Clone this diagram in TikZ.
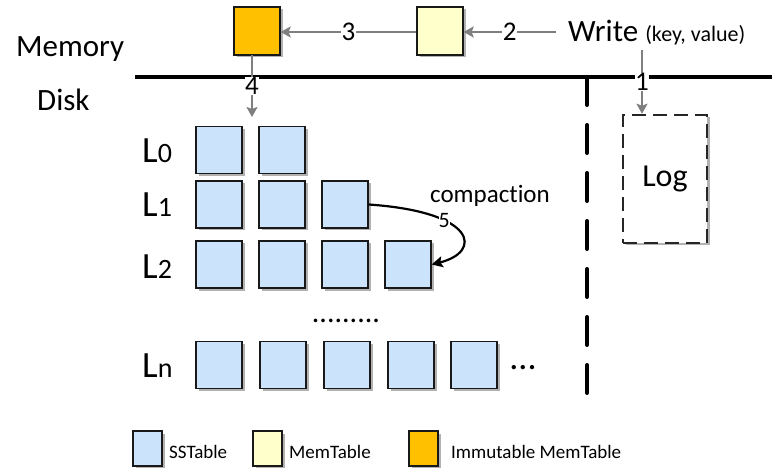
\documentclass[tikz,border=0pt]{standalone}
\usepackage{fontspec}
\setmainfont{Carlito}[Ligatures={NoCommon}]
\usetikzlibrary{arrows.meta,shadows}
\definecolor{sstblue}{HTML}{CCE4FB}
\definecolor{memyel}{HTML}{FFFFCC}
\definecolor{immorg}{HTML}{FFC000}
\definecolor{arrgray}{HTML}{7F7F7F}
\newcommand{\fs}[1]{\fontsize{#1}{#1}\selectfont}
\tikzset{
  shad/.style={drop shadow={shadow xshift=2.5pt,shadow yshift=-2.5pt,opacity=0.3,fill=black}},
  box/.style={draw=black!90,line width=1.3pt,minimum width=46pt,minimum height=47pt,inner sep=0pt,shad},
  sst/.style={box,fill=sstblue},
  mem/.style={box,fill=memyel,minimum height=48pt},
  imm/.style={box,fill=immorg,minimum height=48pt},
  leg/.style={draw=black!90,line width=1.3pt,minimum width=29pt,minimum height=35pt,inner sep=0pt,shad},
  gray arrow/.style={draw=arrgray,line width=2.2pt,-{Stealth[length=10pt,width=11pt,inset=2pt]}},
  num/.style={fill=white,inner sep=0.5pt,font=\fs{27}},
  lvl/.style={anchor=base west,inner sep=0pt},
  legtxt/.style={anchor=base west,inner sep=0pt,font=\fs{19}},
}
\begin{document}
\begin{tikzpicture}[x=1pt,y=-1pt]
\useasboundingbox (0,0) rectangle (772,468);
% labels memory / disk
\node[anchor=base west,inner sep=0pt,font=\fs{31}] (memlbl) at (16,57) {Memory};
\node[anchor=base west,inner sep=0pt,font=\fs{31}] (disklbl) at (37,111) {Disk};
% separators
\coordinate (hl) at (135,77);
\coordinate (hr) at (772,77);
\draw[line width=4pt] (hl) -- (hr);
\coordinate (vt) at (587,77);
\coordinate (vb) at (587,398);
\draw[line width=4pt,line cap=round,dash pattern=on 28pt off 20pt] (vt) -- (vb);
% memtables
\node[imm] (imm) at (257,31) {};
\node[mem] (mem) at (440,31) {};
\node[anchor=base west,inner sep=0pt,font=\fs{31}] (write) at (568,42) {Write {\fs{22}(key, value)}};
\coordinate (w2) at (556,32);
\coordinate (w1) at (642,50);
% log
\node[draw=black!85,fill=white,line width=2.5pt,dash pattern=on 14pt off 7pt,minimum width=84pt,minimum height=128pt,inner sep=0pt,shad,font=\fs{32}] (log) at (665,179) {Log};
% arrows
\draw[gray arrow] (w2) -- node[num] {2} (mem.east |- w2);
\draw[gray arrow] (mem.west |- w2) -- node[num] {3} (imm.east |- w2);
\coordinate (a4s) at (252,55);
\coordinate (a4e) at (252,117);
\draw[gray arrow] (a4s) -- node[num,pos=0.5] {4} (a4e);
\draw[gray arrow] (w1) -- node[num] {1} (w1 |- log.north);
% levels
\node[lvl] (l0) at (142,163) {\fs{37}L\fs{28}0};
\node[lvl] (l1) at (142,217) {\fs{37}L\fs{28}1};
\node[lvl] (l2) at (142,279) {\fs{37}L\fs{28}2};
\node[lvl] (ln) at (142,377) {\fs{37}L\fs{28}n};
\node[sst] (s00) at (219,150) {};
\node[sst] (s01) at (282,150) {};
\node[sst] (s10) at (219,204.5) {};
\node[sst] (s11) at (282,204.5) {};
\node[sst] (s12) at (345,204.5) {};
\node[sst] (s20) at (219,264.5) {};
\node[sst] (s21) at (282,264.5) {};
\node[sst] (s22) at (345,264.5) {};
\node[sst] (s23) at (408,264.5) {};
\node[sst] (sn0) at (219,365) {};
\node[sst] (sn1) at (283,365) {};
\node[sst] (sn2) at (347,365) {};
\node[sst] (sn3) at (411,365) {};
\node[sst] (sn4) at (474,365) {};
\node[anchor=base,inner sep=0pt,font=\fs{30}] (vdots) at (346,322) {.........};
\node[anchor=base,inner sep=0pt,font=\fs{36}] (hdots) at (523,369) {...};
% compaction
\draw[line width=2.2pt,-{Stealth[length=11pt,width=11pt,inset=2pt]}] (s12.east) .. controls (478,212) and (482,252) .. node[pos=0.33,fill=white,inner sep=0pt,font=\fs{22}] {5} (s23.east);
\node[anchor=base,inner sep=0pt,font=\fs{25}] (comp) at (490,203) {compaction};
% legend
\node[leg,fill=sstblue] (lg1) at (147.5,448.5) {};
\node[legtxt] (lt1) at (169,458) {SSTable};
\node[leg,fill=memyel] (lg2) at (267.5,448.5) {};
\node[legtxt] (lt2) at (289,458) {MemTable};
\node[leg,fill=immorg] (lg3) at (423.5,448.5) {};
\node[legtxt] (lt3) at (451,458) {Immutable MemTable};
\end{tikzpicture}
\end{document}
